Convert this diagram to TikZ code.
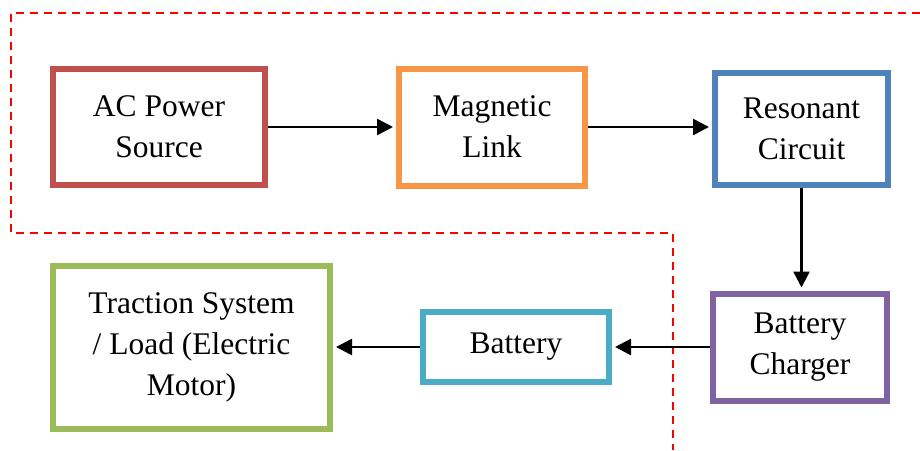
\documentclass[tikz,border=0pt]{standalone}
\usepackage{fontspec}
\setmainfont{Liberation Serif}
\usetikzlibrary{arrows.meta}
\definecolor{cRed}{HTML}{C0504D}
\definecolor{cOrange}{HTML}{F79646}
\definecolor{cBlue}{HTML}{4F81BD}
\definecolor{cPurple}{HTML}{8064A2}
\definecolor{cTeal}{HTML}{4BACC6}
\definecolor{cGreen}{HTML}{9BBB59}
\tikzset{
  blk/.style={draw, line width=6pt, fill=white, align=center, inner sep=0pt,
    font=\fontsize{31.5}{41}\selectfont},
  flow/.style={line width=2.5pt, -{Triangle[length=16pt,width=16pt]}, shorten >=3pt},
  zone/.style={red, line width=1.8pt, dash pattern=on 8pt off 6pt}
}
\begin{document}
\begin{tikzpicture}[x=1pt,y=-1pt]
\useasboundingbox (0,0) rectangle (920,450);
\coordinate (z1) at (920,13);
\coordinate (z2) at (673,450);
\draw[zone] (z1) -- (11,13) -- (11,233) -- (673,233) -- (z2);
\node[blk, draw=cRed, minimum width=212pt, minimum height=116pt] (ac) at (159,127) {AC Power\\Source};
\node[blk, draw=cOrange, minimum width=186pt, minimum height=117pt] (mag) at (492,127) {Magnetic\\Link};
\node[blk, draw=cBlue, minimum width=173pt, minimum height=112pt] (res) at (801.5,129) {Resonant\\Circuit};
\node[blk, draw=cPurple, minimum width=174pt, minimum height=107pt] (chg) at (800,347) {Battery\\Charger};
\node[blk, draw=cTeal, minimum width=186pt, minimum height=70pt] (bat) at (516,347) {Battery};
\node[blk, draw=cGreen, minimum width=277pt, minimum height=163pt] (trc) at (191.5,347) {Traction System\\/ Load (Electric\\Motor)};
\draw[flow] (ac.east) -- (mag.west);
\draw[flow] (mag.east) -- (mag.east -| res.west);
\draw[flow] (res.south) -- (res.south |- chg.north);
\draw[flow] (chg.west) -- (bat.east);
\draw[flow] (bat.west) -- (trc.east);
\end{tikzpicture}
\end{document}
